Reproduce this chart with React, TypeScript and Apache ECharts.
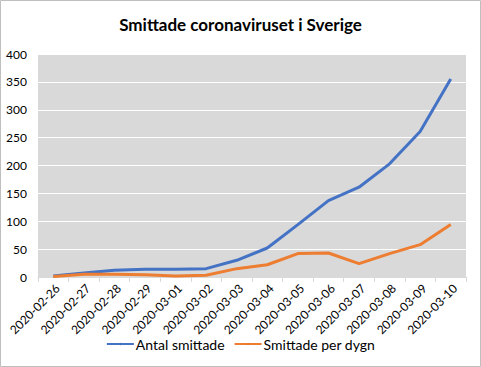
import React, { useEffect, useRef } from "react";
import * as echarts from "echarts";

const categories = [
  "2020-02-26", "2020-02-27", "2020-02-28", "2020-02-29", "2020-03-01",
  "2020-03-02", "2020-03-03", "2020-03-04", "2020-03-05", "2020-03-06",
  "2020-03-07", "2020-03-08", "2020-03-09", "2020-03-10",
];
const antalSmittade = [2, 7, 12, 14, 14, 15, 30, 52, 94, 137, 161, 203, 261, 355];
const smittadePerDygn = [1, 5, 5, 4, 2, 3, 15, 22, 42, 43, 24, 42, 58, 94];
const titleText = "Smittade coronaviruset i Sverige";
const seriesNames = ["Antal smittade", "Smittade per dygn"];

const FONT = "Lato";

export default function App() {
  const ref = useRef<HTMLDivElement>(null);
  useEffect(() => {
    if (!ref.current) return;
    const chart = echarts.init(ref.current, null, { renderer: "svg" });
    chart.setOption({
      animation: false,
      backgroundColor: "#ffffff",
      title: {
        text: titleText,
        left: "center",
        top: 11,
        textStyle: { fontFamily: FONT, fontSize: 17, fontWeight: "bold", color: "#000" },
      },
      graphic: [
        {
          type: "rect",
          shape: { x: 0.5, y: 0.5, width: 480, height: 366 },
          style: { fill: "none", stroke: "#bfbfbf", lineWidth: 1 },
          silent: true,
        },
      ],
      legend: {
        bottom: 11,
        left: "center",
        itemWidth: 27,
        itemHeight: 3,
        itemGap: 9,
        textStyle: { fontFamily: FONT, fontSize: 14, color: "#000", padding: [0, 0, 0, -3] },
        data: seriesNames,
      },
      grid: {
        left: 38,
        right: 15,
        top: 54,
        bottom: 90,
        show: true,
        backgroundColor: "#d9d9d9",
        borderWidth: 0,
        outerBoundsMode: "none",
        containLabel: false,
      },
      xAxis: {
        type: "category",
        data: categories,
        boundaryGap: true,
        axisLine: { show: true, lineStyle: { color: "#d9d9d9", width: 1 } },
        axisTick: { show: true, length: 5, lineStyle: { color: "#d9d9d9" } },
        axisLabel: {
          rotate: 45,
          interval: 0,
          margin: 5,
          verticalAlign: "top",
          fontFamily: FONT,
          fontSize: 12,
          color: "#000",
        },
        splitLine: { show: false },
      },
      yAxis: {
        type: "value",
        min: 0,
        max: 400,
        interval: 50,
        axisLine: { show: false },
        axisTick: { show: false },
        axisLabel: { margin: 11, fontFamily: FONT, fontSize: 12, color: "#000" },
        splitLine: { show: true, lineStyle: { color: "#ffffff", width: 1 } },
      },
      series: [
        {
          name: seriesNames[0],
          type: "line",
          data: antalSmittade,
          symbol: "none",
          lineStyle: { color: "#4472c4", width: 3 },
          itemStyle: { color: "#4472c4" },
        },
        {
          name: seriesNames[1],
          type: "line",
          data: smittadePerDygn,
          symbol: "none",
          lineStyle: { color: "#ed7d31", width: 3 },
          itemStyle: { color: "#ed7d31" },
        },
      ],
    });
    return () => chart.dispose();
  }, []);
  return (
    <div
      ref={ref}
      style={{ position: "absolute", left: 0, top: 0, width: 481, height: 367 }}
    />
  );
}
